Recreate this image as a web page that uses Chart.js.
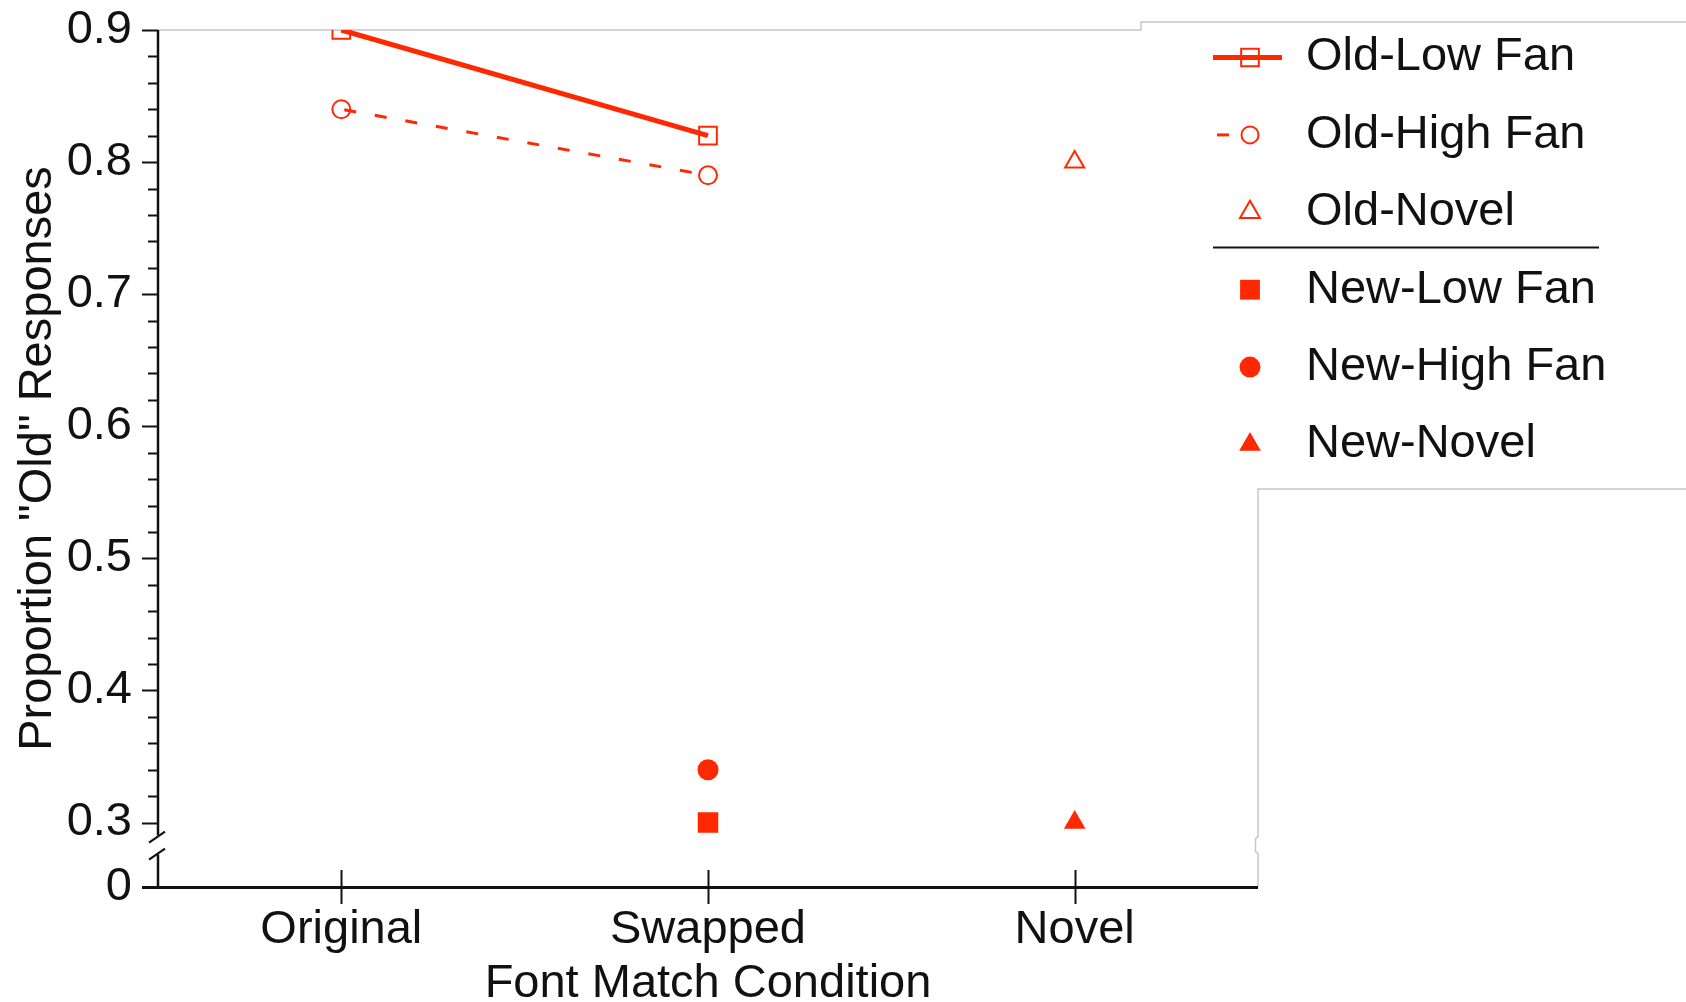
<!DOCTYPE html>
<html>
<head>
<meta charset="utf-8">
<title>Proportion "Old" Responses by Font Match Condition</title>
<script src="https://cdn.jsdelivr.net/npm/chart.js@4/dist/chart.umd.min.js"></script>
<style>
  html, body { margin: 0; padding: 0; background: #ffffff; }
  canvas { display: block; }
</style>
</head>
<body>
<canvas id="chart" width="1686" height="1002"></canvas>
<script>
// ---- data ----
const categories = ['Original', 'Swapped', 'Novel'];

const oldLowFan  = [0.90, 0.82, null];
const oldHighFan = [0.84, 0.79, null];
const oldNovel   = [null, null, 0.80];
const newLowFan  = [null, 0.30, null];
const newHighFan = [null, 0.34, null];
const newNovel   = [null, null, 0.30];

// y axis: labelled ticks above the break, plus the "0" shown below the break
const yTickValues = [0.3, 0.4, 0.5, 0.6, 0.7, 0.8, 0.9];
const yMinorStep = 0.02;
const AXIS_FLOOR = 0.2512;   // axis value drawn at the bottom of the broken axis
const FLOOR_LABEL = '0';

// ---- styling ----
const RED = '#ff2800';
const INK = '#111111';
const FRAME = '#c6c6c6';
const FONT = "'Liberation Sans', Arial, Helvetica, sans-serif";
const FONT_SIZE = 47;

// Axis lines, tick marks, axis break and the light frame
const axesPlugin = {
  id: 'brokenAxes',
  beforeDatasetsDraw(chart) {
    const { ctx, chartArea: a, scales: { x, y } } = chart;
    const W = chart.width;
    const p03 = y.getPixelForValue(yTickValues[0]);
    const breakTop = p03 + 14;
    const breakBot = p03 + 31;

    ctx.save();
    // light frame: plot top edge, legend box outline, plot right edge
    ctx.strokeStyle = FRAME;
    ctx.lineWidth = 1.5;
    ctx.beginPath();
    ctx.moveTo(a.left, a.top);
    ctx.lineTo(1141, a.top);
    ctx.lineTo(1141, 22);
    ctx.lineTo(W, 22);
    ctx.moveTo(W, 489);
    ctx.lineTo(a.right, 489);
    ctx.lineTo(a.right, breakTop);
    ctx.lineTo(a.right - 2.5, breakTop + 2);
    ctx.lineTo(a.right - 2.5, breakBot - 2);
    ctx.lineTo(a.right, breakBot);
    ctx.lineTo(a.right, a.bottom);
    ctx.stroke();

    ctx.strokeStyle = INK;
    ctx.lineCap = 'butt';

    // y axis line, interrupted by the break
    ctx.lineWidth = 2.5;
    ctx.beginPath();
    ctx.moveTo(a.left, a.top);
    ctx.lineTo(a.left, breakTop - 1);
    ctx.moveTo(a.left, breakBot + 1);
    ctx.lineTo(a.left, a.bottom);
    ctx.stroke();

    // break slashes
    ctx.lineWidth = 2.2;
    [breakTop, breakBot].forEach(cy => {
      ctx.beginPath();
      ctx.moveTo(a.left - 9, cy + 6);
      ctx.lineTo(a.left + 7, cy - 5);
      ctx.stroke();
    });

    // y tick marks: majors at labelled values, minors every 0.02
    ctx.lineWidth = 2;
    const top = y.max;
    for (let v = yTickValues[0]; v <= top + 1e-9; v += yMinorStep) {
      const val = Math.round(v * 100) / 100;
      const isMajor = yTickValues.some(t => Math.abs(t - val) < 1e-9);
      const py = Math.round(y.getPixelForValue(val)) + 0.5;
      ctx.beginPath();
      ctx.moveTo(a.left - (isMajor ? 16 : 10), py);
      ctx.lineTo(a.left, py);
      ctx.stroke();
    }

    // x axis line (reaches out as far as the major y ticks)
    ctx.lineWidth = 2.8;
    ctx.beginPath();
    ctx.moveTo(a.left - 16, a.bottom + 0.5);
    ctx.lineTo(a.right, a.bottom + 0.5);
    ctx.stroke();

    // x tick marks crossing the axis
    ctx.lineWidth = 2;
    categories.forEach((c, i) => {
      const px = Math.round(x.getPixelForValue(i)) + 0.5;
      ctx.beginPath();
      ctx.moveTo(px, a.bottom - 17);
      ctx.lineTo(px, a.bottom + 17);
      ctx.stroke();
    });
    ctx.restore();
  }
};

// simple marker shapes in the same geometry Chart.js uses
function drawMarker(ctx, style, cx, cy, r) {
  ctx.beginPath();
  if (style === 'rect') {
    const s = Math.SQRT1_2 * r;
    ctx.rect(cx - s, cy - s, 2 * s, 2 * s);
  } else if (style === 'triangle') {
    ctx.moveTo(cx, cy - r);
    ctx.lineTo(cx + 0.866 * r, cy + 0.5 * r);
    ctx.lineTo(cx - 0.866 * r, cy + 0.5 * r);
    ctx.closePath();
  } else {
    ctx.arc(cx, cy, r, 0, Math.PI * 2);
  }
}

// Legend with a rule between the "Old" and "New" groups
const legendPlugin = {
  id: 'groupedLegend',
  afterDraw(chart) {
    const ctx = chart.ctx;
    const symX = 1250, textX = 1306, y0 = 57.5, dy = 77.4;
    const lineFrom = 1213, lineTo = 1282;
    ctx.save();
    chart.data.datasets.forEach((ds, i) => {
      const cy = y0 + i * dy;
      if (ds.showLine) {
        ctx.strokeStyle = ds.borderColor;
        ctx.lineWidth = ds.borderWidth;
        const dashed = ds.borderDash && ds.borderDash.length;
        ctx.setLineDash(dashed ? ds.borderDash : []);
        ctx.lineDashOffset = dashed ? -4 : 0;
        ctx.beginPath();
        ctx.moveTo(lineFrom, cy);
        ctx.lineTo(dashed ? symX - 10 : lineTo, cy);
        ctx.stroke();
        ctx.setLineDash([]);
      }
      const r = ds.legendRadius;
      drawMarker(ctx, ds.pointStyle, symX, cy, r);
      ctx.fillStyle = ds.pointBackgroundColor;
      ctx.fill();
      if (ds.pointBorderWidth > 0) {
        ctx.strokeStyle = ds.pointBorderColor;
        ctx.lineWidth = ds.pointBorderWidth;
        ctx.stroke();
      }
      ctx.fillStyle = INK;
      ctx.font = FONT_SIZE + 'px ' + FONT;
      ctx.textAlign = 'left';
      ctx.textBaseline = 'middle';
      ctx.fillText(ds.label, textX, cy);
    });
    // group separator
    ctx.strokeStyle = INK;
    ctx.lineWidth = 2;
    ctx.beginPath();
    ctx.moveTo(1213, 247.5);
    ctx.lineTo(1599, 247.5);
    ctx.stroke();
    ctx.restore();
  }
};

const HOLLOW = 'rgba(255,255,255,0)';

const datasets = [
  { label: 'Old-Low Fan', data: oldLowFan, showLine: true,
    borderColor: RED, borderWidth: 5,
    pointStyle: 'rect', pointRadius: 12.5, legendRadius: 12.5,
    pointBorderColor: RED, pointBorderWidth: 2, pointBackgroundColor: HOLLOW },
  { label: 'Old-High Fan', data: oldHighFan, showLine: true,
    borderColor: RED, borderWidth: 3, borderDash: [12, 19], borderDashOffset: -3,
    pointStyle: 'circle', pointRadius: 9, legendRadius: 8.5,
    pointBorderColor: RED, pointBorderWidth: 2, pointBackgroundColor: HOLLOW },
  { label: 'Old-Novel', data: oldNovel, showLine: false,
    borderColor: RED,
    pointStyle: 'triangle', pointRadius: 11, legendRadius: 11.5,
    pointBorderColor: RED, pointBorderWidth: 2, pointBackgroundColor: HOLLOW },
  { label: 'New-Low Fan', data: newLowFan, showLine: false,
    borderColor: RED,
    pointStyle: 'rect', pointRadius: 14.5, legendRadius: 14,
    pointBorderColor: RED, pointBorderWidth: 0, pointBackgroundColor: RED },
  { label: 'New-High Fan', data: newHighFan, showLine: false,
    borderColor: RED,
    pointStyle: 'circle', pointRadius: 10.5, legendRadius: 10.5,
    pointBorderColor: RED, pointBorderWidth: 0, pointBackgroundColor: RED },
  { label: 'New-Novel', data: newNovel, showLine: false,
    borderColor: RED,
    pointStyle: 'triangle', pointRadius: 12.5, legendRadius: 12.5,
    pointBorderColor: RED, pointBorderWidth: 0, pointBackgroundColor: RED }
];

const tickFont = { family: FONT, size: FONT_SIZE };
const titleFont = { family: FONT, size: FONT_SIZE, lineHeight: 1 };

new Chart(document.getElementById('chart'), {
  type: 'line',
  data: { labels: categories, datasets: datasets },
  options: {
    responsive: false,
    animation: false,
    events: [],
    layout: { padding: { top: 30, right: 428, left: 0, bottom: 0 } },
    elements: { line: { tension: 0, fill: false } },
    plugins: { legend: { display: false }, tooltip: { enabled: false } },
    scales: {
      x: {
        type: 'category',
        offset: true,
        // tick marks are drawn by the brokenAxes plugin; tickLength only spaces the labels
        grid: { display: false, drawTicks: true, tickLength: 15 },
        border: { display: false },
        ticks: { font: tickFont, color: INK, padding: 0, maxRotation: 0, autoSkip: false },
        title: { display: true, text: 'Font Match Condition', font: titleFont, color: INK,
                 padding: { top: 0, bottom: -5.5 } },
        afterFit(scale) {
          scale.height = 115;
          scale.paddingLeft = 0; scale.paddingRight = 0;
        }
      },
      y: {
        type: 'linear',
        min: AXIS_FLOOR,
        max: yTickValues[yTickValues.length - 1],
        grid: { display: false, drawTicks: true, tickLength: 26 },
        border: { display: false },
        afterBuildTicks(scale) {
          scale.ticks = [AXIS_FLOOR].concat(yTickValues).map(v => ({ value: v }));
        },
        ticks: {
          font: tickFont, color: INK, padding: 0,
          callback: (v) => (v === AXIS_FLOOR ? FLOOR_LABEL : Number(v).toFixed(1))
        },
        title: { display: true, text: 'Proportion "Old" Responses', font: titleFont, color: INK,
                 padding: { top: 14.5, bottom: 0 } },
        afterFit(scale) {
          scale.width = 158;
          scale.paddingTop = 0; scale.paddingBottom = 0;
        }
      }
    }
  },
  plugins: [axesPlugin, legendPlugin]
});
</script>
</body>
</html>
